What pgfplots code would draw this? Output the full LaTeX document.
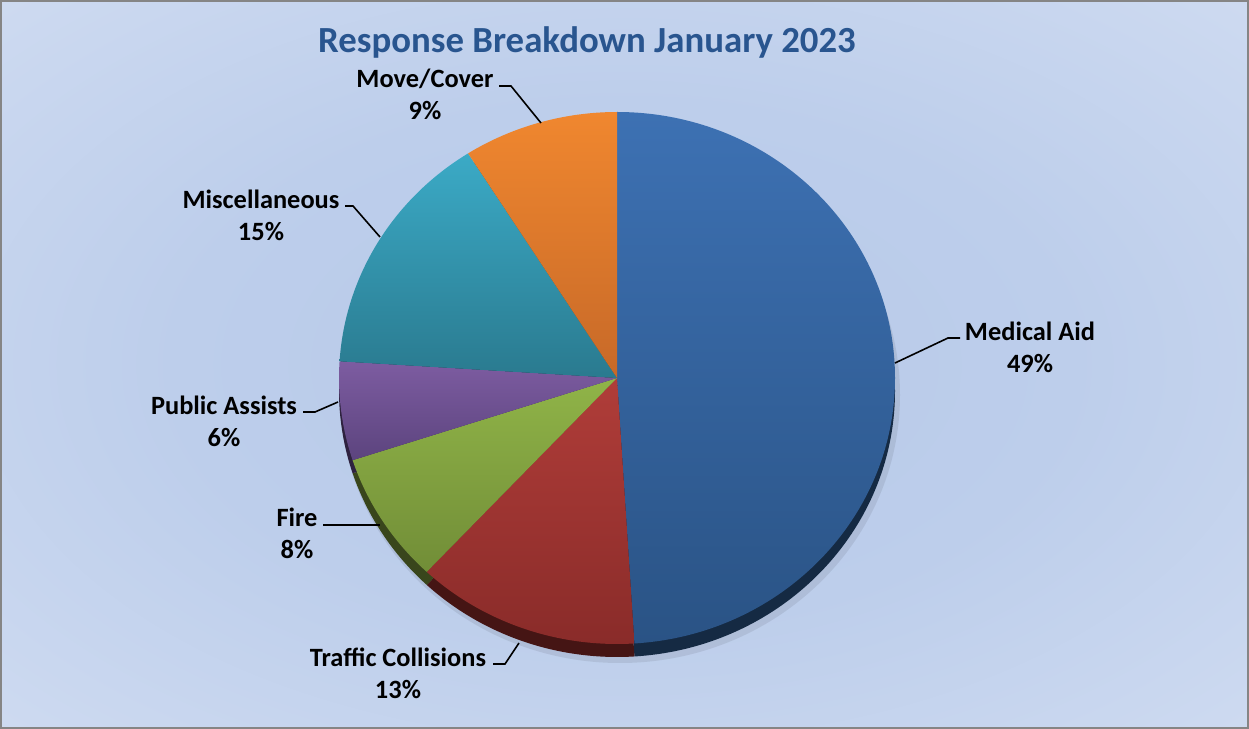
\documentclass[border=0pt]{standalone}
\usepackage{fontspec}
\setmainfont{Carlito}
\usepackage{pgfplots}
\usepackage{pgfplotstable}
\pgfplotsset{compat=1.18}

\definecolor{titleblue}{HTML}{29558F}
\definecolor{cMedT}{HTML}{3D71B3}
\definecolor{cMedB}{HTML}{2A5385}
\definecolor{cTraT}{HTML}{B03D39}
\definecolor{cTraB}{HTML}{892B29}
\definecolor{cFirT}{HTML}{90B448}
\definecolor{cFirB}{HTML}{718D37}
\definecolor{cPubT}{HTML}{7D5CA1}
\definecolor{cPubB}{HTML}{5C447E}
\definecolor{cMisT}{HTML}{3BAAC6}
\definecolor{cMisB}{HTML}{2A7A8F}
\definecolor{cMovT}{HTML}{F0872F}
\definecolor{cMovB}{HTML}{C76928}
\definecolor{bgA}{HTML}{B7C9E9}
\definecolor{bgB}{HTML}{BDCEEB}
\definecolor{bgC}{HTML}{CCD9F0}
\definecolor{bgD}{HTML}{E0E7F5}

\pgfdeclareradialshading{bgshade}{\pgfpoint{0bp}{0bp}}{%
  color(0bp)=(bgA); color(18bp)=(bgB); color(34bp)=(bgC); color(50bp)=(bgD)}

% share of each response type, clockwise from 12 o'clock
\pgfplotstableread{
value top bot
49 cMedT cMedB
13 cTraT cTraB
8  cFirT cFirB
6  cPubT cPubB
15 cMisT cMisB
9  cMovT cMovB
}\piedata

\begin{document}
\begin{tikzpicture}[
  lbl/.style={align=center, inner sep=0pt,
    font=\fontsize{13.2}{16}\selectfont\bfseries, text=black},
]
\begin{axis}[
  width=624.5pt, height=364.5pt,
  scale only axis,
  xmin=0, xmax=1249,
  ymin=-729, ymax=0,
  hide axis,
  clip=false,
]
% background
\shade[shading=bgshade, draw=black!48, line width=1.2pt]
  (1.2,-1.2) rectangle (1247.8,-727.8);

% soft shadow
\fill[black, opacity=0.08] (620,-395) ellipse[x radius=140pt, y radius=134pt];

% rim (pie thickness)
\def\cum{90}
\pgfplotsforeachungrouped \i in {0,...,5}{%
  \pgfplotstablegetelem{\i}{value}\of\piedata\let\val\pgfplotsretval
  \pgfplotstablegetelem{\i}{bot}\of\piedata\let\cbot\pgfplotsretval
  \pgfmathsetmacro\aend{\cum-3.6*\val}%
  \edef\doslice{\noexpand\fill[\cbot!50!black] (617,-391) -- ++(\cum:139pt and 133pt)
    arc[start angle=\cum, end angle=\aend, x radius=139pt, y radius=133pt] -- cycle;}%
  \doslice
  \global\let\cum\aend
}

% top surface
\def\cum{90}
\pgfplotsforeachungrouped \i in {0,...,5}{%
  \pgfplotstablegetelem{\i}{value}\of\piedata\let\val\pgfplotsretval
  \pgfplotstablegetelem{\i}{top}\of\piedata\let\ctop\pgfplotsretval
  \pgfplotstablegetelem{\i}{bot}\of\piedata\let\cbot\pgfplotsretval
  \pgfmathsetmacro\aend{\cum-3.6*\val}%
  \edef\doslice{\noexpand\shade[top color=\ctop, bottom color=\cbot] (617,-378) -- ++(\cum:139pt and 133pt)
    arc[start angle=\cum, end angle=\aend, x radius=139pt, y radius=133pt] -- cycle;}%
  \doslice
  \global\let\cum\aend
}

% title
\node[font=\fontsize{18.4}{22}\selectfont\bfseries, text=titleblue] at (587,-42)
  {Response Breakdown January 2023};

% leader lines
\draw[line width=0.8pt] (960,-338) -- (948,-338) -- (895,-363);
\draw[line width=0.8pt] (493,-664) -- (505,-664) -- (519,-643);
\draw[line width=0.8pt] (323,-525) -- (380,-525);
\draw[line width=0.8pt] (303,-412) -- (315,-412) -- (338,-402);
\draw[line width=0.8pt] (345,-206) -- (353,-206) -- (380,-237);
\draw[line width=0.8pt] (499,-86) -- (511,-86) -- (541,-123);

% labels
\node[lbl] at (1030,-347) {Medical Aid\\49\%};
\node[lbl] at (398,-673) {Traffic Collisions\\13\%};
\node[lbl] at (297,-533) {Fire\\8\%};
\node[lbl] at (224,-421) {Public Assists\\6\%};
\node[lbl] at (261,-215) {Miscellaneous\\15\%};
\node[lbl] at (425,-94) {Move/Cover\\9\%};
\end{axis}
\end{tikzpicture}
\end{document}
